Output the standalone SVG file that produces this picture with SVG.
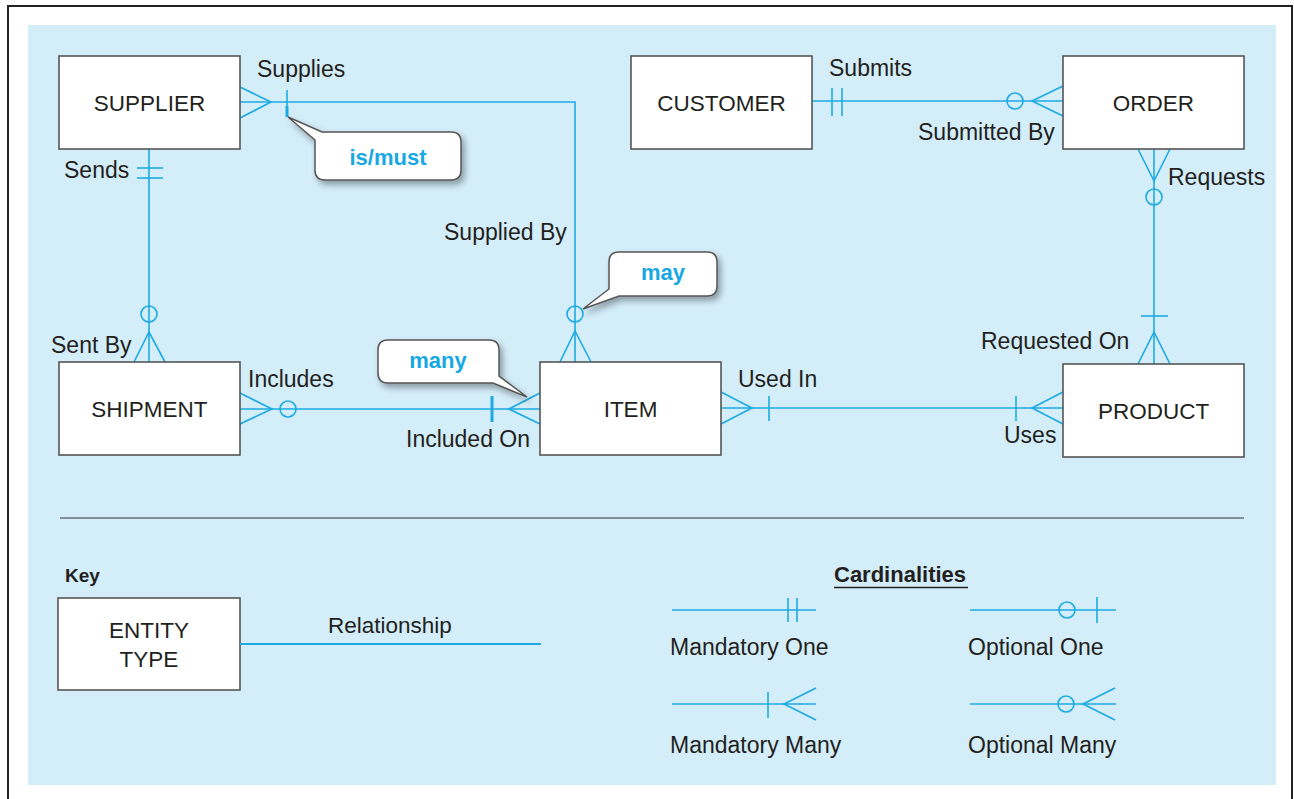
<svg xmlns="http://www.w3.org/2000/svg" width="1294" height="799" viewBox="0 0 1294 799">
<style>
.ent{fill:#fff;stroke:#555;stroke-width:1.6}
.et{font-family:"Liberation Sans",Arial,sans-serif;font-size:22.5px;fill:#231F20;text-anchor:middle}
.lb{font-family:"Liberation Sans",Arial,sans-serif;font-size:23px;fill:#231F20}
.c{stroke:#1DAAE2;stroke-width:1.6;fill:none}
.ct{stroke:#1DAAE2;stroke-width:3;fill:none}
.co{fill:#fff;stroke:#555;stroke-width:1.5}
.cot{font-family:"Liberation Sans",Arial,sans-serif;font-size:22px;font-weight:bold;fill:#17A8E3;text-anchor:middle}
</style>
<defs>
<filter id="sh" x="-20%" y="-20%" width="150%" height="170%">
<feDropShadow dx="3" dy="4" stdDeviation="3" flood-color="#000" flood-opacity="0.35"/>
</filter>
</defs>
<rect x="0" y="0" width="1294" height="799" fill="#fff"/>
<rect x="8" y="6" width="1284" height="820" fill="none" stroke="#222" stroke-width="2"/>
<rect x="28" y="25" width="1248" height="760" fill="#D3EDF9"/>

<g id="connectors">
<!-- Supplier - Item -->
<polyline class="c" points="240,102 575,102 575,362"/>
<polyline class="c" points="240,87 271,102 240,118"/>
<line class="c" x1="287" y1="90" x2="287" y2="108"/>
<line class="ct" x1="287" y1="106" x2="287" y2="117"/>
<circle class="c" cx="575" cy="314" r="8"/>
<polyline class="c" points="560,362 575,331 591,362"/>
<!-- Supplier - Shipment -->
<line class="c" x1="149" y1="149" x2="149" y2="362"/>
<line class="c" x1="137" y1="168" x2="163" y2="168"/>
<line class="c" x1="137" y1="178" x2="163" y2="178"/>
<circle class="c" cx="149" cy="314" r="8"/>
<polyline class="c" points="134,362 149,332 165,362"/>
<!-- Customer - Order -->
<line class="c" x1="812" y1="101" x2="1063" y2="101"/>
<line class="c" x1="832" y1="88" x2="832" y2="116"/>
<line class="c" x1="842" y1="88" x2="842" y2="116"/>
<circle class="c" cx="1015" cy="101" r="8"/>
<polyline class="c" points="1063,86 1032,101 1063,116"/>
<!-- Order - Product -->
<line class="c" x1="1154" y1="149" x2="1154" y2="364"/>
<polyline class="c" points="1138,149 1154,181 1170,149"/>
<circle class="c" cx="1154" cy="197" r="8"/>
<line class="c" x1="1141" y1="316" x2="1168" y2="316"/>
<polyline class="c" points="1138,364 1154,332 1170,364"/>
<!-- Shipment - Item -->
<line class="c" x1="240" y1="409" x2="540" y2="409"/>
<polyline class="c" points="240,393 272,409 240,424"/>
<circle class="c" cx="288" cy="409" r="8"/>
<line class="ct" x1="492" y1="396" x2="492" y2="422"/>
<polyline class="c" points="540,393 509,409 540,424"/>
<!-- Item - Product -->
<line class="c" x1="721" y1="408" x2="1063" y2="408"/>
<polyline class="c" points="721,392 752,408 721,424"/>
<line class="c" x1="769" y1="396" x2="769" y2="421"/>
<line class="c" x1="1016" y1="396" x2="1016" y2="421"/>
<polyline class="c" points="1063,392 1032,408 1063,424"/>
</g>

<g id="labels">
<text class="lb" x="257" y="77">Supplies</text>
<text class="lb" x="64" y="178">Sends</text>
<text class="lb" x="51" y="353">Sent By</text>
<text class="lb" x="444" y="240">Supplied By</text>
<text class="lb" x="829" y="76">Submits</text>
<text class="lb" x="918" y="140">Submitted By</text>
<text class="lb" x="1168" y="185">Requests</text>
<text class="lb" x="981" y="349">Requested On</text>
<text class="lb" x="248" y="387">Includes</text>
<text class="lb" x="406" y="447">Included On</text>
<text class="lb" x="738" y="387">Used In</text>
<text class="lb" x="1004" y="443">Uses</text>
</g>

<g id="SUPPLIER"><rect class="ent" x="59" y="56" width="181" height="93"/><text class="et" x="149.5" y="111">SUPPLIER</text></g>
<g id="CUSTOMER"><rect class="ent" x="631" y="56" width="181" height="93"/><text class="et" x="721.5" y="111">CUSTOMER</text></g>
<g id="ORDER"><rect class="ent" x="1063" y="56" width="181" height="93"/><text class="et" x="1153.5" y="111">ORDER</text></g>
<g id="SHIPMENT"><rect class="ent" x="59" y="362" width="181" height="93"/><text class="et" x="149.5" y="417">SHIPMENT</text></g>
<g id="ITEM"><rect class="ent" x="540" y="362" width="181" height="93"/><text class="et" x="630.5" y="417">ITEM</text></g>
<g id="PRODUCT"><rect class="ent" x="1063" y="364" width="181" height="93"/><text class="et" x="1153.5" y="419">PRODUCT</text></g>

<g id="callout-ismust">
<path class="co" filter="url(#sh)" d="M288,117 L322,132 L451,132 Q461,132 461,142 L461,170 Q461,180 451,180 L325,180 Q315,180 315,170 L315,140 Z"/>
<text class="cot" x="388" y="165">is/must</text>
</g>
<g id="callout-may">
<path class="co" filter="url(#sh)" d="M583,309 L609,289 L609,262 Q609,252 619,252 L707,252 Q717,252 717,262 L717,286 Q717,296 707,296 L619,296 Z"/>
<text class="cot" x="663" y="280">may</text>
</g>
<g id="callout-many">
<path class="co" filter="url(#sh)" d="M527,397 L493,383 L388,383 Q378,383 378,373 L378,350 Q378,340 388,340 L489,340 Q499,340 499,350 L499,376 Z"/>
<text class="cot" x="438" y="368">many</text>
</g>

<line x1="60" y1="518" x2="1244" y2="518" stroke="#333" stroke-width="1.2"/>

<g id="key">
<text class="lb" x="65" y="582" style="font-size:19px;font-weight:bold">Key</text>
<rect class="ent" x="58" y="598" width="182" height="92"/>
<text class="et" x="149" y="638">ENTITY</text>
<text class="et" x="149" y="667">TYPE</text>
<line x1="240" y1="644" x2="541" y2="644" stroke="#1DAAE2" stroke-width="2.2"/>
<text class="lb" x="328" y="633" style="font-size:22.5px">Relationship</text>
</g>

<g id="cardinalities">
<text class="lb" x="834" y="582" style="font-weight:bold;font-size:22px">Cardinalities</text>
<line x1="834" y1="587.5" x2="968" y2="587.5" stroke="#231F20" stroke-width="1.5"/>
<!-- Mandatory One -->
<line class="c" x1="672" y1="610" x2="816" y2="610"/>
<line class="c" x1="788" y1="598" x2="788" y2="622"/>
<line class="c" x1="797" y1="598" x2="797" y2="622"/>
<text class="lb" x="670" y="655">Mandatory One</text>
<!-- Optional One -->
<line class="c" x1="970" y1="610" x2="1116" y2="610"/>
<circle class="c" cx="1067" cy="610" r="8" fill="#D3EDF9"/>
<line class="c" x1="1097" y1="597" x2="1097" y2="623"/>
<text class="lb" x="968" y="655">Optional One</text>
<!-- Mandatory Many -->
<line class="c" x1="672" y1="704" x2="816" y2="704"/>
<line class="c" x1="768" y1="692" x2="768" y2="718"/>
<polyline class="c" points="816,688 784,704 816,720"/>
<text class="lb" x="670" y="753">Mandatory Many</text>
<!-- Optional Many -->
<line class="c" x1="970" y1="704" x2="1116" y2="704"/>
<circle class="c" cx="1066" cy="704" r="8"/>
<polyline class="c" points="1115,688 1083,704 1115,720"/>
<text class="lb" x="968" y="753">Optional Many</text>
</g>
</svg>
